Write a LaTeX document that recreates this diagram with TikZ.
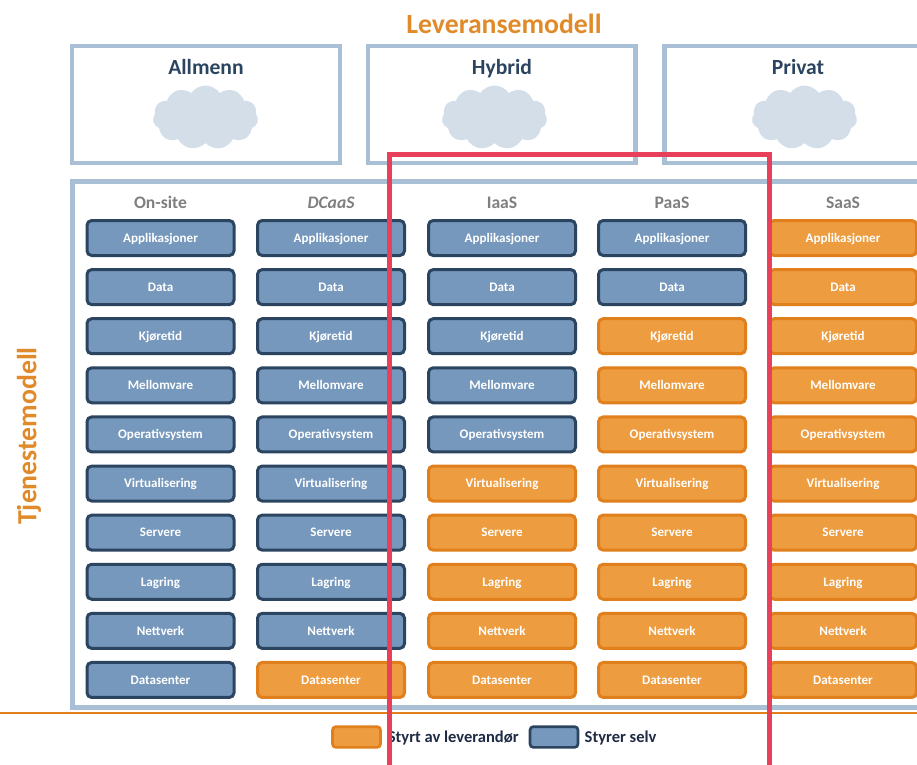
\documentclass[tikz,border=0pt]{standalone}
\usepackage{fontspec}
\setmainfont{Carlito}
\usetikzlibrary{positioning,shapes.symbols}
\definecolor{framecol}{HTML}{A8BFD6}
\definecolor{cloudcol}{HTML}{D3DEE9}
\definecolor{bluefill}{HTML}{7698BC}
\definecolor{blueline}{HTML}{2B4560}
\definecolor{orangefill}{HTML}{ED9C40}
\definecolor{orangeline}{HTML}{E07F1C}
\definecolor{titlecol}{HTML}{E08A2A}
\definecolor{headcol}{HTML}{7F7F7F}
\definecolor{redcol}{HTML}{E8405A}
\definecolor{textcol}{HTML}{1F2A44}
\tikzset{
  box/.style={rounded corners=3.5pt,line width=2.25pt,minimum width=110.25pt,minimum height=26.25pt,inner sep=0pt,text=white,text height=8.4pt,text depth=1.9pt,font=\bfseries\fontsize{9.8}{10}\selectfont},
  bluebox/.style={box,draw=blueline,fill=bluefill},
  orangebox/.style={box,draw=orangeline,fill=orangefill},
  frame/.style={draw=framecol,line width=3.4pt,inner sep=0pt},
  cloudshape/.style={cloud,cloud puffs=11,cloud puff arc=110,aspect=1.7,fill=cloudcol,minimum width=79pt,minimum height=48pt,inner sep=0pt},
  head/.style={text=headcol,text height=10.8pt,text depth=2pt,font=\bfseries\fontsize{13.2}{15}\selectfont},
  deliv/.style={text=blueline,text height=13pt,text depth=2pt,font=\bfseries\fontsize{16.2}{18}\selectfont},
  title/.style={text=titlecol,font=\bfseries\fontsize{20.8}{23}\selectfont},
  legend/.style={text=textcol,yshift=-0.75pt,font=\bfseries\fontsize{12.4}{14}\selectfont},
  legendbox/.style={rounded corners=2.5pt,line width=2pt,minimum width=36pt,minimum height=15.5pt,inner sep=0pt}
}
\begin{document}
\begin{tikzpicture}[x=0.75pt,y=-0.75pt]
\clip (0,0) rectangle (917,764);

\node[title](leveranse) at (504,24){Leveransemodell};
\node[title,rotate=90](tjeneste) at (29,436){Tjenestemodell};

\node[frame,minimum width=200.8pt,minimum height=87.75pt](allmennbox) at (206,104.5){};
\node[frame,minimum width=200.8pt,minimum height=87.75pt](hybridbox) at (501.8,104.5){};
\node[frame,minimum width=200.8pt,minimum height=87.75pt](privatbox) at (798.5,104.5){};
\node[deliv](allmenn) at (206,67){Allmenn};
\node[deliv](hybrid) at (502,67){Hybrid};
\node[deliv](privat) at (798,67){Privat};
\node[cloudshape](cloud1) at (205.5,117.5){};
\node[cloudshape](cloud2) at (494.5,117.5){};
\node[cloudshape](cloud3) at (804.5,117.5){};

\node[frame,minimum width=656pt,minimum height=394.5pt](tjenestebox) at (510,444.5){};
\coordinate (ruleleft) at (0,713);
\coordinate (ruleright) at (917,713);
\draw[orangeline,line width=0.8pt] (ruleleft) -- (ruleright);

\node[head](onsite) at (160.5,203){On-site};
\node[head](dcaas) at (331,203){\itshape DCaaS};
\node[head](iaas) at (502,203){IaaS};
\node[head](paas) at (672,203){PaaS};
\node[head](saas) at (843,203){SaaS};

\node[bluebox](a1) at (160.5,238){Applikasjoner};
\node[bluebox,below=8.33pt of a1](a2){Data};
\node[bluebox,below=8.33pt of a2](a3){Kjøretid};
\node[bluebox,below=8.33pt of a3](a4){Mellomvare};
\node[bluebox,below=8.33pt of a4](a5){Operativsystem};
\node[bluebox,below=8.33pt of a5](a6){Virtualisering};
\node[bluebox,below=8.33pt of a6](a7){Servere};
\node[bluebox,below=8.33pt of a7](a8){Lagring};
\node[bluebox,below=8.33pt of a8](a9){Nettverk};
\node[bluebox,below=8.33pt of a9](a10){Datasenter};

\node[bluebox](b1) at (331,238){Applikasjoner};
\node[bluebox,below=8.33pt of b1](b2){Data};
\node[bluebox,below=8.33pt of b2](b3){Kjøretid};
\node[bluebox,below=8.33pt of b3](b4){Mellomvare};
\node[bluebox,below=8.33pt of b4](b5){Operativsystem};
\node[bluebox,below=8.33pt of b5](b6){Virtualisering};
\node[bluebox,below=8.33pt of b6](b7){Servere};
\node[bluebox,below=8.33pt of b7](b8){Lagring};
\node[bluebox,below=8.33pt of b8](b9){Nettverk};
\node[orangebox,below=8.33pt of b9](b10){Datasenter};

\node[bluebox](c1) at (502,238){Applikasjoner};
\node[bluebox,below=8.33pt of c1](c2){Data};
\node[bluebox,below=8.33pt of c2](c3){Kjøretid};
\node[bluebox,below=8.33pt of c3](c4){Mellomvare};
\node[bluebox,below=8.33pt of c4](c5){Operativsystem};
\node[orangebox,below=8.33pt of c5](c6){Virtualisering};
\node[orangebox,below=8.33pt of c6](c7){Servere};
\node[orangebox,below=8.33pt of c7](c8){Lagring};
\node[orangebox,below=8.33pt of c8](c9){Nettverk};
\node[orangebox,below=8.33pt of c9](c10){Datasenter};

\node[bluebox](d1) at (672,238){Applikasjoner};
\node[bluebox,below=8.33pt of d1](d2){Data};
\node[orangebox,below=8.33pt of d2](d3){Kjøretid};
\node[orangebox,below=8.33pt of d3](d4){Mellomvare};
\node[orangebox,below=8.33pt of d4](d5){Operativsystem};
\node[orangebox,below=8.33pt of d5](d6){Virtualisering};
\node[orangebox,below=8.33pt of d6](d7){Servere};
\node[orangebox,below=8.33pt of d7](d8){Lagring};
\node[orangebox,below=8.33pt of d8](d9){Nettverk};
\node[orangebox,below=8.33pt of d9](d10){Datasenter};

\node[orangebox](e1) at (843,238){Applikasjoner};
\node[orangebox,below=8.33pt of e1](e2){Data};
\node[orangebox,below=8.33pt of e2](e3){Kjøretid};
\node[orangebox,below=8.33pt of e3](e4){Mellomvare};
\node[orangebox,below=8.33pt of e4](e5){Operativsystem};
\node[orangebox,below=8.33pt of e5](e6){Virtualisering};
\node[orangebox,below=8.33pt of e6](e7){Servere};
\node[orangebox,below=8.33pt of e7](e8){Lagring};
\node[orangebox,below=8.33pt of e8](e9){Nettverk};
\node[orangebox,below=8.33pt of e9](e10){Datasenter};

\node[legendbox,draw=orangeline,fill=orangefill](legend1) at (356.5,737){};
\node[legend,right=1pt of legend1](legendtext1){Styrt av leverandør};
\node[legendbox,draw=blueline,fill=bluefill](legend2) at (554,737){};
\node[legend,right=0.5pt of legend2](legendtext2){Styrer selv};

\draw[redcol,line width=3.4pt] (389.3,154.5) rectangle (769.5,767);
\end{tikzpicture}
\end{document}
